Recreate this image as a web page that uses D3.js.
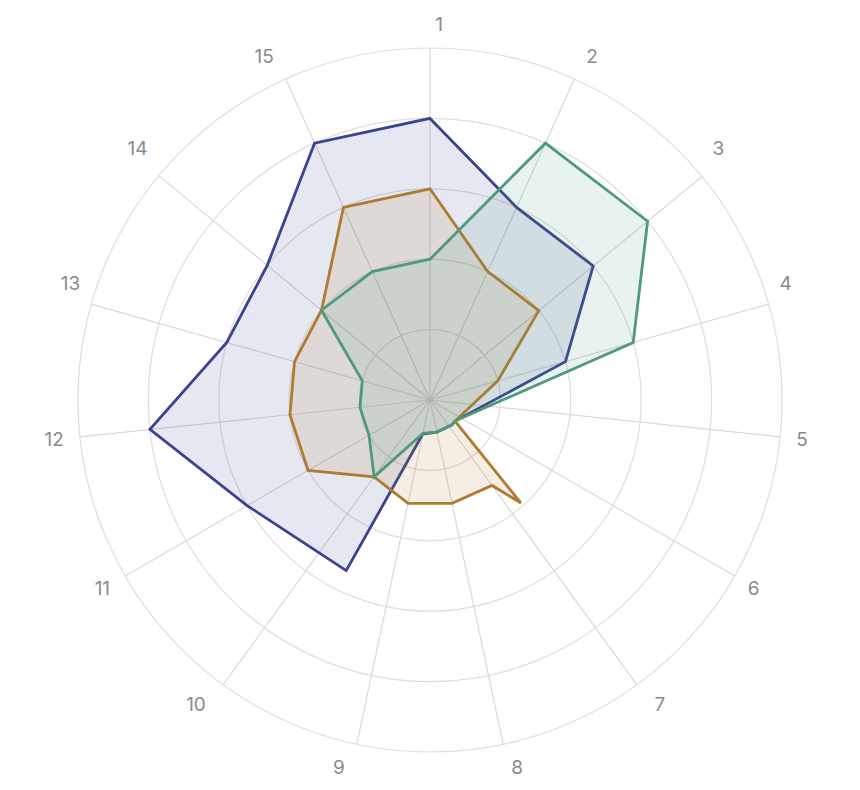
<!DOCTYPE html>
<html>
<head>
<meta charset="utf-8">
<script src="https://cdn.jsdelivr.net/npm/d3@7"></script>
<style>
  html, body { margin: 0; padding: 0; background: #ffffff; }
  svg { display: block; }
</style>
</head>
<body>
<svg id="chart" width="860" height="790"></svg>
<script>
// ---- data ----
const categories = ["1","2","3","4","5","6","7","8","9","10","11","12","13","14","15"];
const ringTicks = [20, 40, 60, 80, 100];

// theta = category position (0-based, fractional where a vertex sits between spokes)
const blueTheta  = [0, 1, 2, 3, 5.42, 5.8, 7, 8, 8.59, 10, 11, 12, 13, 14];
const blueValues = [80, 60, 60, 40, 9.3, 9.4, 9.3, 9.9, 54, 60, 80, 60, 60, 80];

const orangeTheta  = [0, 1, 2, 3, 5.42, 5.775, 6, 7, 8, 9, 10, 11, 12, 13, 14];
const orangeValues = [60, 40, 40, 20, 9.3, 39, 30, 30, 30, 27, 40, 40, 40, 40, 60];

const greenTheta  = [0, 1, 2, 3, 5.42, 5.79, 7, 8, 9, 10, 11, 12, 13, 14];
const greenValues = [40, 80, 80, 60, 9.3, 9.4, 9.3, 9.7, 27, 20, 20, 20, 40, 40];

// ---- layout ----
const cx = 430, cy = 400, R = 352, LR = 376;
const svg = d3.select("#chart");
const g = svg.append("g").attr("transform", `translate(${cx},${cy})`);

const rScale = d3.scaleLinear().domain([0, 100]).range([0, R]);
const deg = Math.PI / 180;
// spoke angles (degrees, clockwise from 12 o'clock)
const angle = d3.scaleLinear()
  .domain(d3.range(16))
  .range([0, 24.2, 50.6, 74.2, 96, 120, 144, 168, 192, 216, 240, 264, 285.8, 309.6, 335.8, 360].map(d => d * deg));
const labelAngle = d3.scaleLinear().domain([0, categories.length]).range([0, 2 * Math.PI]);

// grid rings
g.append("g").selectAll("circle").data(ringTicks).join("circle")
  .attr("r", d => rScale(d))
  .attr("fill", "none")
  .attr("stroke", "#dedede")
  .attr("stroke-width", 1.2);

// spokes
g.append("g").selectAll("line").data(categories).join("line")
  .attr("x1", 0).attr("y1", 0)
  .attr("x2", (d, i) => rScale(100) * Math.sin(angle(i)))
  .attr("y2", (d, i) => -rScale(100) * Math.cos(angle(i)))
  .attr("stroke", "#d9d9d9")
  .attr("stroke-width", 1.2);

// labels: pushed sideways near top and bottom
function labelDx(a) {
  const s = Math.sin(a), c = Math.cos(a);
  const side = s >= -1e-6 ? 1 : -1;
  return (Math.abs(c) > 0.6 ? 11 * side : 0) - 2;
}
g.append("g").selectAll("text").data(categories).join("text")
  .attr("x", (d, i) => LR * Math.sin(labelAngle(i)) + labelDx(labelAngle(i)))
  .attr("y", (d, i) => -LR * Math.cos(labelAngle(i)))
  .attr("text-anchor", "middle")
  .attr("dominant-baseline", "central")
  .attr("font-family", "Inter, 'Open Sans', sans-serif")
  .attr("font-size", 19)
  .attr("fill", "#8a8a8a")
  .text(d => d);

// series
const series = [
  { theta: blueTheta,   values: blueValues,   color: "#39438f" },
  { theta: orangeTheta, values: orangeValues, color: "#b07b2e" },
  { theta: greenTheta,  values: greenValues,  color: "#4e9a7a" }
];

const radial = d3.lineRadial()
  .angle(d => angle(d[0]))
  .radius(d => rScale(d[1]))
  .curve(d3.curveLinearClosed);

series.forEach(s => {
  const pts = s.theta.map((t, i) => [t, s.values[i]]);
  g.append("path")
    .datum(pts)
    .attr("d", radial)
    .attr("fill", s.color)
    .attr("fill-opacity", 0.13)
    .attr("stroke", s.color)
    .attr("stroke-width", 2.8)
    .attr("stroke-linejoin", "miter");
});
</script>
</body>
</html>
